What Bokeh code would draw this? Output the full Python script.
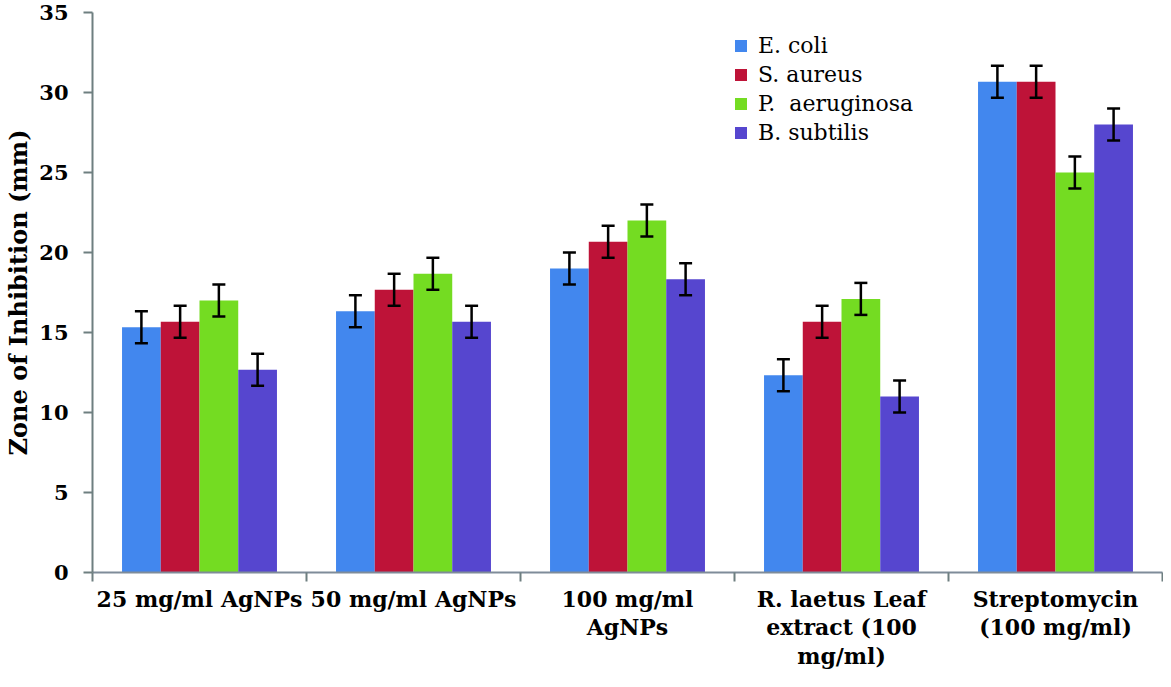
from bokeh.plotting import figure
from bokeh.models import (FixedTicker, Whisker, TeeHead, ColumnDataSource,
                          Range1d, Legend, LegendItem)
from bokeh.embed import file_html
from bokeh.resources import INLINE

categories = ["25 mg/ml AgNPs", "50 mg/ml AgNPs", "100 mg/ml\nAgNPs",
              "R. laetus Leaf\nextract (100\nmg/ml)", "Streptomycin\n(100 mg/ml)"]
series = ["E. coli", "S. aureus", "P.  aeruginosa", "B. subtilis"]
e_coli = [15.33, 16.33, 19.0, 12.33, 30.67]
s_aureus = [15.67, 17.67, 20.67, 15.67, 30.67]
p_aeruginosa = [17.0, 18.67, 22.0, 17.1, 25.0]
b_subtilis = [12.67, 15.67, 18.33, 11.0, 28.0]
errors = [1.0, 1.0, 1.0, 1.0, 1.0]
y_ticks = [0, 5, 10, 15, 20, 25, 30, 35]
colors = ["#4287EE", "#BE1338", "#74DC22", "#5646CF"]

values = [e_coli, s_aureus, p_aeruginosa, b_subtilis]

FONT = "DejaVu Serif"

p = figure(width=1163, height=679, output_backend="svg", toolbar_location=None,
           x_range=Range1d(0, 5), y_range=Range1d(0, 35),
           min_border_left=92, min_border_right=1, min_border_top=12,
           min_border_bottom=107)
p.outline_line_color = None
p.xgrid.visible = False
p.ygrid.visible = False

bar_w = 0.181
offsets = [-1.5 * bar_w, -0.5 * bar_w, 0.5 * bar_w, 1.5 * bar_w]

items = []
for name, vals, col, off in zip(series, values, colors, offsets):
    xs = [i + 0.5 + off for i in range(len(categories))]
    src = ColumnDataSource(dict(x=xs, top=vals,
                                upper=[v + e for v, e in zip(vals, errors)],
                                lower=[v - e for v, e in zip(vals, errors)]))
    r = p.vbar(x="x", top="top", width=bar_w, source=src, fill_color=col,
               line_color=None)
    items.append(LegendItem(label=name, renderers=[r]))
    w = Whisker(base="x", upper="upper", lower="lower", source=src,
                level="overlay",
                line_color="black", line_width=2.5,
                upper_head=TeeHead(size=13, line_color="black", line_width=2.5),
                lower_head=TeeHead(size=13, line_color="black", line_width=2.5))
    p.add_layout(w)

legend = Legend(items=items, location=(641, 427), orientation="vertical",
                background_fill_alpha=0, border_line_color=None,
                label_text_font=FONT, label_text_font_size="22px",
                label_text_color="black",
                glyph_width=15, glyph_height=15, label_standoff=10,
                spacing=4, padding=0, margin=0)
p.add_layout(legend, "center")

# y axis
p.yaxis.ticker = FixedTicker(ticks=y_ticks, minor_ticks=[])
p.yaxis.axis_line_color = "#6E7F80"
p.yaxis.axis_line_width = 2
p.yaxis.major_tick_line_color = "#6E7F80"
p.yaxis.major_tick_line_width = 2
p.yaxis.major_tick_out = 9
p.yaxis.major_tick_in = 0
p.yaxis.minor_tick_line_color = None
p.yaxis.major_label_text_font = FONT
p.yaxis.major_label_text_font_style = "bold"
p.yaxis.major_label_text_font_size = "21px"
p.yaxis.major_label_text_color = "black"
p.yaxis.major_label_standoff = 15
p.yaxis.axis_label = "Zone of Inhibition (mm)"
p.yaxis.axis_label_text_font = FONT
p.yaxis.axis_label_text_font_style = "bold"
p.yaxis.axis_label_text_font_size = "24px"
p.yaxis.axis_label_text_color = "black"
p.yaxis.axis_label_standoff = 3

# x axis: labels at category centres, ticks at category boundaries
p.xaxis.ticker = FixedTicker(ticks=[0.5, 1.5, 2.5, 3.5, 4.5],
                             minor_ticks=[0, 1, 2, 3, 4, 5])
p.xaxis.major_label_overrides = {i + 0.5: c for i, c in enumerate(categories)}
p.xaxis.axis_line_color = "#7F8C99"
p.xaxis.axis_line_width = 2
p.xaxis.major_tick_line_color = None
p.xaxis.major_tick_out = 0
p.xaxis.major_tick_in = 0
p.xaxis.minor_tick_line_color = "#6E7F80"
p.xaxis.minor_tick_line_width = 2
p.xaxis.minor_tick_out = 9
p.xaxis.minor_tick_in = 0
p.xaxis.major_label_standoff = 4
p.xaxis.major_label_text_font = FONT
p.xaxis.major_label_text_font_style = "bold"
p.xaxis.major_label_text_font_size = "22px"
p.xaxis.major_label_text_color = "black"
p.xaxis.major_label_text_line_height = 1.1

open("out.html", "w").write(file_html(p, INLINE))
